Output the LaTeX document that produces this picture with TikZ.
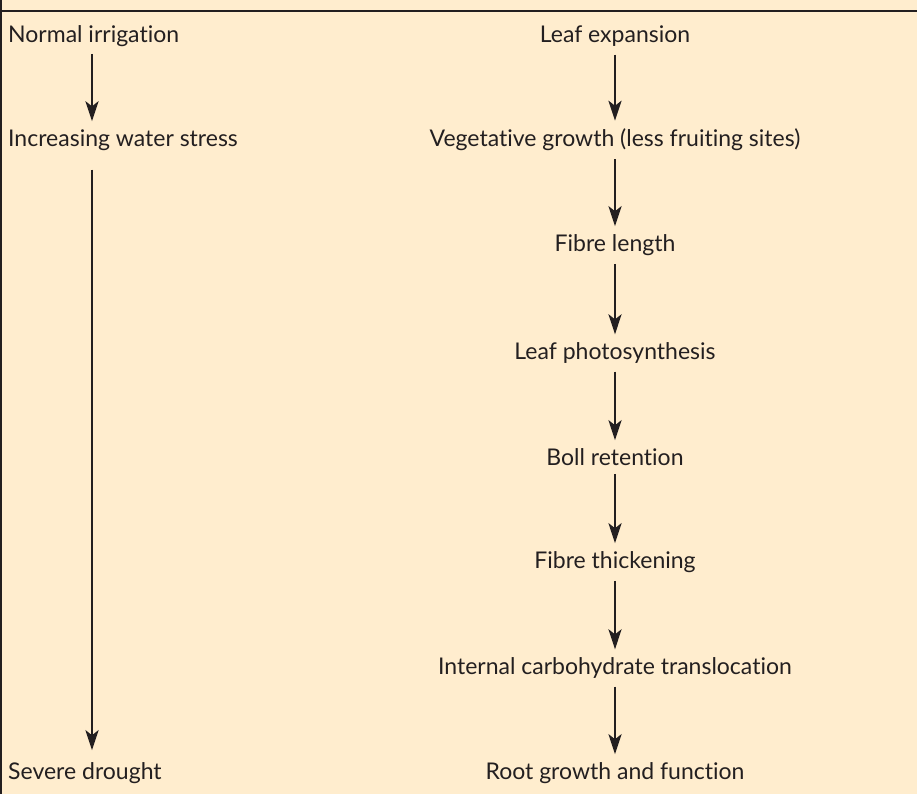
\documentclass[tikz,border=0pt]{standalone}
\usepackage{fontspec}
\setmainfont[Ligatures=NoCommon]{Lato}
\usetikzlibrary{arrows.meta,positioning,calc}
\definecolor{PaperCream}{RGB}{255,237,206}
\definecolor{InkGrey}{RGB}{35,31,32}

\begin{document}
\begin{tikzpicture}[
      x=1pt,y=-1pt,
      font=\fontsize{23}{27}\selectfont,
      lbl/.style={text=InkGrey,inner sep=0pt,anchor=center},
      lft/.style={lbl,anchor=west},
      arrow/.style={-{Stealth[length=20pt,width=13pt,inset=5pt]},line width=2.7pt,draw=InkGrey}
    ]
      % background and frame
      \fill[PaperCream] (0,0) rectangle (917,794);
      \useasboundingbox (0,0) rectangle (917,794);
      \draw[InkGrey,line width=2pt] (0,11) -- (917,11);
      \draw[InkGrey,line width=2pt] (1,0) -- (1,794);

      % left column
      \node[lft] (normal) at (8,36) {Normal irrigation};
      \node[lft] (stress) at (8,140) {Increasing water stress};
      \node[lft] (drought) at (8,773) {Severe drought};

      % right column
      \node[lbl] (leaf) at (615,36) {Leaf expansion};
      \node[lbl] (veg) at (615,140) {Vegetative growth (less fruiting sites)};
      \node[lbl] (length) at (615,245) {Fibre length};
      \node[lbl] (photo) at (615,353) {Leaf photosynthesis};
      \node[lbl] (boll) at (615,457) {Boll retention};
      \node[lbl] (thick) at (615,562) {Fibre thickening};
      \node[lbl] (carb) at (615,668) {Internal carbohydrate translocation};
      \node[lbl] (root) at (615,773) {Root growth and function};

      \draw[arrow,shorten <=7pt,shorten >=8pt] ([xshift=84]normal.south west) -- ([xshift=84]stress.north west);
      \draw[arrow,shorten <=19pt,shorten >=12pt] ([xshift=84]stress.south west) -- ([xshift=84]drought.north west);

      \foreach \a/\b in {leaf/veg,veg/length,length/photo,photo/boll,boll/thick,thick/carb,carb/root}
        \draw[arrow,shorten <=8pt,shorten >=8pt] (\a.south) -- (\b.north);
    \end{tikzpicture}
\end{document}
